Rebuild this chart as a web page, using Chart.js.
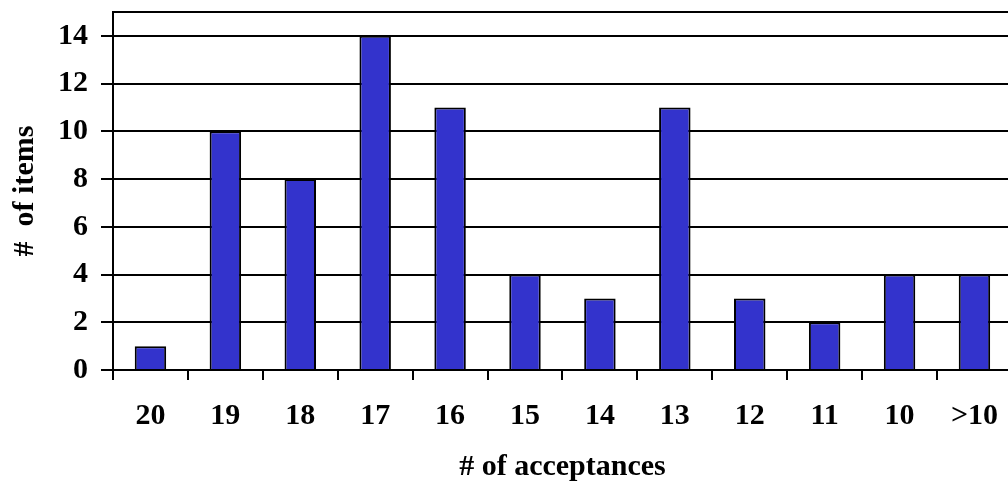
<!doctype html>
<html>
<head>
	<title>Acceptances</title>
	<script src="https://cdn.jsdelivr.net/npm/chart.js@4"></script>
	<style>
		html, body { margin: 0; padding: 0; overflow: hidden; background: #fff; }
	</style>
</head>
<body>
	<canvas id="canvas" width="1016" height="487"></canvas>
	<script>
		var categories = ['20', '19', '18', '17', '16', '15', '14', '13', '12', '11', '10', '>10'];
		var items = [1, 10, 8, 14, 11, 4, 3, 11, 3, 2, 4, 4];
		var yTicks = [0, 2, 4, 6, 8, 10, 12, 14];
		var yMax = 15;

		var font = { family: "'Times New Roman', 'Liberation Serif', serif", size: 30, weight: 'bold' };

		var config = {
			type: 'bar',
			data: {
				labels: categories,
				datasets: [{
					label: '# of items',
					data: items,
					backgroundColor: '#3333cc',
					borderColor: '#000',
					borderWidth: 2,
					barPercentage: 0.42,
					categoryPercentage: 1
				}]
			},
			options: {
				responsive: false,
				animation: false,
				layout: { padding: { top: 12, right: 0, left: 0, bottom: 0 } },
				plugins: { legend: { display: false }, tooltip: { enabled: false } },
				scales: {
					x: {
						offset: true,
						grid: { drawOnChartArea: false, color: '#000', lineWidth: 2, tickLength: 10, offset: true },
						border: { color: '#000', width: 2 },
						ticks: { color: '#000', font: font, padding: 18, maxRotation: 0, autoSkip: false },
						title: { display: true, text: '# of acceptances', color: '#000', font: font, padding: { top: 0, bottom: 2 } },
						afterFit: function(scale) { scale.height = 117; }
					},
					y: {
						min: 0,
						max: yMax,
						afterBuildTicks: function(scale) {
							scale.ticks = yTicks.concat([yMax]).map(function(v) { return { value: v }; });
						},
						ticks: {
							color: '#000',
							font: font,
							padding: 13,
							autoSkip: false,
							callback: function(v) { return v === yMax ? '' : v; }
						},
						grid: {
							color: '#000',
							lineWidth: 2,
							tickLength: 12,
							tickColor: function(ctx) { return ctx.tick && ctx.tick.value === yMax ? 'rgba(0,0,0,0)' : '#000'; }
						},
						border: { color: '#000', width: 2 },
						title: { display: true, text: '#  of items', color: '#000', font: font, padding: { top: 7, bottom: 0 } },
						afterFit: function(scale) {
							scale.width = 113;
							scale.paddingTop = 0;
							scale.paddingBottom = 0;
						}
					}
				}
			}
		};

		new Chart(document.getElementById('canvas'), config);
	</script>
</body>
</html>
